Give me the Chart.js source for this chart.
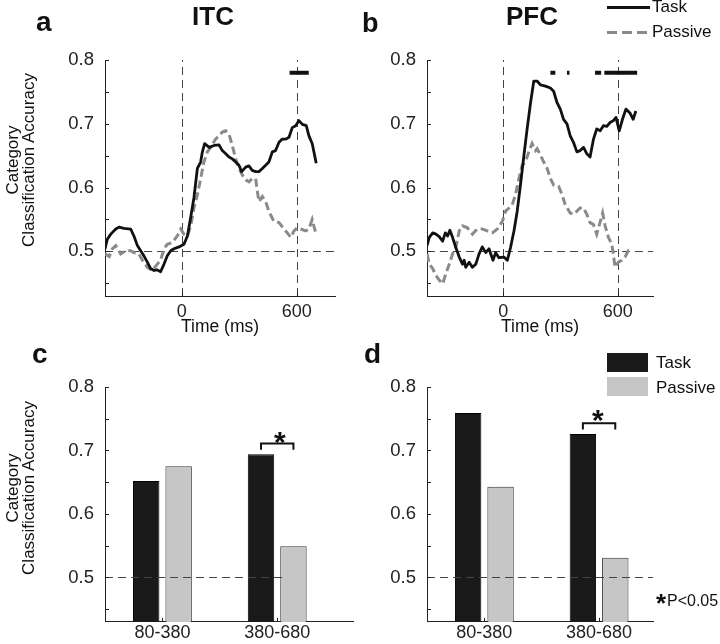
<!DOCTYPE html>
<html><head><meta charset="utf-8">
<script src="https://cdn.jsdelivr.net/npm/chart.js@4.4.1/dist/chart.umd.min.js"></script>
<style>
html,body{margin:0;padding:0;background:#fff;}
body{width:720px;height:644px;position:relative;overflow:hidden;font-family:"Liberation Sans",Arial,sans-serif;color:#111;}
canvas{position:absolute;}
.t{position:absolute;white-space:nowrap;}
.lbl{font-weight:bold;font-size:28px;line-height:28px;}
.ttl{font-weight:bold;font-size:26px;line-height:26px;transform:translateX(-50%);}
.yt{font-size:17px;line-height:16px;text-align:center;transform:translate(-50%,-50%) rotate(-90deg);}
.lg{font-size:17px;line-height:17px;}
.star{font-weight:bold;font-size:30px;line-height:30px;}
</style></head><body>
<canvas id="ca" width="360" height="340" style="left:0;top:0;width:360px;height:340px"></canvas>
<canvas id="cb" width="360" height="340" style="left:360px;top:0;width:360px;height:340px"></canvas>
<canvas id="cc" width="360" height="324" style="left:0;top:320px;width:360px;height:324px"></canvas>
<canvas id="cd" width="360" height="324" style="left:360px;top:320px;width:360px;height:324px"></canvas>

<div class="t lbl" style="left:36px;top:8px">a</div>
<div class="t lbl" style="left:362px;top:9px;font-size:27px">b</div>
<div class="t lbl" style="left:32px;top:340px">c</div>
<div class="t lbl" style="left:364px;top:340px">d</div>
<div class="t ttl" style="left:213px;top:3px">ITC</div>
<div class="t ttl" style="left:532px;top:3px">PFC</div>
<div class="t yt" style="left:21px;top:160px">Category<br>Classification Accuracy</div>
<div class="t yt" style="left:21px;top:488px">Category<br>Classification Accuracy</div>

<div class="t" style="left:607px;top:6px;width:43px;border-top:3px solid #111"></div>
<div class="t" style="left:607px;top:31px;width:10px;border-top:3px solid #8a8a8a"></div>
<div class="t" style="left:622px;top:31px;width:10px;border-top:3px solid #8a8a8a"></div>
<div class="t" style="left:637px;top:31px;width:10px;border-top:3px solid #8a8a8a"></div>
<div class="t lg" style="left:652px;top:-2px">Task</div>
<div class="t lg" style="left:652px;top:23px">Passive</div>

<div class="t" style="left:607px;top:353px;width:41px;height:19px;background:#1a1a1a"></div>
<div class="t" style="left:607px;top:377px;width:41px;height:19px;background:#c6c6c6"></div>
<div class="t lg" style="left:656px;top:354px">Task</div>
<div class="t lg" style="left:656px;top:379px">Passive</div>

<div class="t star" style="left:274px;top:427px">*</div>
<div class="t star" style="left:592px;top:405px">*</div>
<div class="t star" style="left:656px;top:590px;font-size:26px;line-height:26px">*</div>
<div class="t" style="left:667px;top:593px;font-size:16px;line-height:16px">P&lt;0.05</div>

<script>
// ---------- data ----------
const yTicks = [0.45, 0.5, 0.55, 0.6, 0.65, 0.7, 0.75, 0.8];
const timeTicks = [0, 600];
const eventTimes = [0, 600];
const chance = 0.5;
const sigLevel = 0.78;

const itcTaskT = [-400,-388,-370,-344,-327,-301,-266,-249,-231,-214,-197,-179,-162,-144,-127,-110,-92,-75,-57,-40,-14,12,30,47,64,82,99,108,120,143,169,195,212,230,247,264,282,299,313,334,351,368,386,403,421,438,455,473,490,508,525,543,560,577,595,612,630,650,664,681,690,702];
const itcTaskV = [.504,.519,.527,.535,.538,.536,.535,.524,.509,.501,.493,.483,.473,.470,.471,.468,.480,.493,.501,.504,.507,.511,.524,.553,.584,.630,.640,.656,.669,.663,.666,.667,.658,.653,.648,.645,.640,.635,.625,.632,.634,.627,.625,.625,.630,.635,.640,.656,.658,.671,.676,.676,.679,.694,.697,.705,.699,.697,.681,.669,.656,.638];

const itcPassiveT = [-400,-378,-362,-344,-318,-292,-266,-249,-223,-205,-179,-153,-127,-110,-92,-75,-49,-23,-5,12,30,47,64,82,99,116,134,151,177,195,212,230,247,264,282,299,316,334,351,368,386,395,403,421,438,455,481,508,534,551,569,586,603,621,647,664,681,699];
const itcPassiveV = [.496,.492,.504,.509,.496,.501,.501,.498,.496,.486,.475,.470,.480,.486,.504,.511,.514,.524,.535,.527,.524,.540,.568,.589,.614,.640,.656,.663,.676,.681,.687,.689,.684,.666,.645,.630,.620,.612,.609,.614,.614,.594,.578,.586,.578,.563,.547,.545,.535,.529,.522,.532,.537,.535,.532,.535,.550,.529];

const pfcTaskT = [-400,-388,-370,-353,-336,-318,-304,-292,-280,-266,-249,-231,-214,-205,-197,-179,-162,-144,-127,-110,-92,-75,-54,-40,-23,3,21,38,56,73,90,108,125,143,160,177,195,221,247,264,282,299,316,334,351,368,386,403,421,438,455,473,490,508,525,543,560,577,591,608,625,643,664,681,695];
const pfcTaskV = [.509,.522,.529,.527,.523,.516,.529,.524,.533,.522,.506,.491,.480,.486,.475,.483,.475,.480,.496,.507,.498,.504,.486,.498,.490,.491,.486,.506,.532,.563,.604,.650,.692,.733,.767,.767,.761,.759,.756,.751,.733,.723,.707,.700,.681,.671,.656,.658,.663,.653,.648,.676,.692,.689,.697,.696,.702,.705,.710,.689,.707,.723,.717,.707,.720];

const pfcPassiveT = [-400,-388,-370,-353,-336,-318,-301,-283,-266,-249,-231,-214,-188,-162,-136,-110,-83,-57,-31,-5,12,30,47,64,82,99,116,134,151,169,177,195,212,230,247,264,290,308,325,351,368,386,403,421,438,455,473,490,504,521,534,551,569,577,586,603,621,638,655,673];
const pfcPassiveV = [.496,.480,.473,.462,.455,.449,.465,.480,.496,.506,.532,.540,.537,.527,.535,.535,.532,.529,.535,.547,.563,.568,.573,.589,.614,.635,.640,.656,.669,.658,.661,.651,.640,.630,.614,.604,.602,.589,.573,.560,.558,.563,.568,.568,.558,.545,.542,.527,.542,.560,.540,.522,.511,.496,.475,.483,.486,.491,.501,.501];

const itcSig = [[563, 663]];
const pfcSig = [[247, 273], [334, 347], [481, 513], [530, 702]];

const categories = ['80-380', '380-680'];
const itcTaskBar = [0.652, 0.694];
const itcPassiveBar = [0.675, 0.549];
const pfcTaskBar = [0.759, 0.726];
const pfcPassiveBar = [0.643, 0.531];
const barSignificant = [false, true];

// ---------- helpers ----------
const FAM = 'Arial, "Liberation Sans", sans-serif';
Chart.defaults.font.family = FAM;
Chart.defaults.color = '#222';
function F(size, extra) { return Object.assign({family: FAM, size: size, style: 'normal', weight: 'normal'}, extra || {}); }

function pts(t, v) { return t.map((x, i) => ({x: x, y: v[i]})); }
function sigPts(intervals) {
  const out = [];
  intervals.forEach(([s, e]) => { out.push({x: s, y: sigLevel}, {x: e, y: sigLevel}, {x: e, y: null}); });
  return out;
}
function seg(ctx, x0, y0, x1, y1) { ctx.beginPath(); ctx.moveTo(x0, y0); ctx.lineTo(x1, y1); ctx.stroke(); }

function drawRefs(chart, o) {
  const {ctx, chartArea: a, scales: {x, y}} = chart;
  ctx.save();
  ctx.strokeStyle = '#444'; ctx.lineWidth = 1; ctx.setLineDash([8, 5]);
  const py = Math.round(y.getPixelForValue(o.hValue)) + 0.5;
  const xe = o.hTo != null ? x.getPixelForValue(o.hTo) : a.right;
  seg(ctx, a.left, py, xe, py);
  (o.vValues || []).forEach(v => {
    const px = Math.round(x.getPixelForValue(v)) + 0.5;
    seg(ctx, px, a.bottom, px, a.top);
  });
  ctx.restore();
}
function drawTicks(chart) {
  const {ctx, chartArea: a, scales: {x, y}} = chart;
  ctx.save();
  ctx.strokeStyle = '#222'; ctx.lineWidth = 1; ctx.setLineDash([]);
  y.ticks.forEach(t => { const p = Math.round(y.getPixelForValue(t.value)) + 0.5; seg(ctx, a.left, p, a.left + 4, p); });
  x.ticks.forEach(t => { const p = Math.round(x.getPixelForValue(t.value)) + 0.5; seg(ctx, p, a.bottom, p, a.bottom - 4); });
  ctx.restore();
}
function drawBrackets(chart, o) {
  const {ctx, scales: {y}} = chart;
  const m0 = chart.getDatasetMeta(0), m1 = chart.getDatasetMeta(1);
  ctx.save();
  ctx.strokeStyle = '#111'; ctx.lineWidth = 2; ctx.setLineDash([]);
  o.sig.forEach((s, i) => {
    if (!s) return;
    const x0 = m0.data[i].x, x1 = m1.data[i].x;
    const top = Math.max(o.task[i], o.passive[i]);
    const by = y.getPixelForValue(top + 0.017), ty = y.getPixelForValue(top + 0.007);
    ctx.beginPath(); ctx.moveTo(x0, ty); ctx.lineTo(x0, by); ctx.lineTo(x1, by); ctx.lineTo(x1, ty); ctx.stroke();
  });
  ctx.restore();
}
const decor = {
  id: 'decor',
  beforeDatasetsDraw(chart, args, o) { if (!o.onTop) drawRefs(chart, o); },
  afterDatasetsDraw(chart, args, o) {
    if (o.onTop) drawRefs(chart, o);
    if (o.sig) drawBrackets(chart, o);
    drawTicks(chart);
  }
};

function yScale(width) {
  return {
    type: 'linear', min: 0.43, max: 0.8,
    afterBuildTicks: s => { s.ticks = yTicks.map(v => ({value: v})); },
    afterFit: s => { s.width = width; },
    grid: {display: false, drawTicks: false},
    border: {display: true, color: '#222', width: 1},
    ticks: {padding: 11, font: F(18.5), color: '#222',
      callback: v => (Math.round(v * 100) % 10 === 0 ? v.toFixed(1) : '')}
  };
}

function lineChart(id, taskT, taskV, passT, passV, sig, g) {
  return new Chart(document.getElementById(id), {
    type: 'line',
    data: {datasets: [
      {label: 'Task', data: pts(taskT, taskV), borderColor: '#111', borderWidth: 2.8, pointRadius: 0, tension: 0, borderJoinStyle: 'round'},
      {label: 'Sig', data: sigPts(sig), borderColor: '#111', borderWidth: 4, pointRadius: 0, spanGaps: false, borderCapStyle: 'butt'},
      {label: 'Passive', data: pts(passT, passV), borderColor: '#8a8a8a', borderWidth: 3, borderDash: [8, 4], pointRadius: 0, tension: 0}
    ]},
    options: {
      responsive: false, animation: false, events: [],
      font: F(17),
      layout: {padding: {left: 0, top: g.top, right: g.right, bottom: 0}},
      plugins: {legend: {display: false}, tooltip: {enabled: false},
        decor: {hValue: chance, vValues: eventTimes, onTop: false}},
      scales: {
        x: {
          type: 'linear', min: -400, max: g.xMax,
          afterBuildTicks: s => { s.ticks = timeTicks.map(v => ({value: v})); },
          afterFit: s => { s.height = g.xh; },
          grid: {display: false, drawTicks: false},
          border: {display: true, color: '#222', width: 1},
          ticks: {padding: 7, font: F(18, {lineHeight: 1}), color: '#222', maxRotation: 0, callback: v => String(v)},
          title: {display: true, text: 'Time (ms)', color: '#111', font: F(17.5, {lineHeight: 1}), padding: {top: 0, bottom: 4.5}}
        },
        y: yScale(g.yw)
      }
    },
    plugins: [decor]
  });
}

function barChart(id, task, passive, g) {
  const common = {borderWidth: 1, barPercentage: 0.815, categoryPercentage: 0.565};
  return new Chart(document.getElementById(id), {
    type: 'bar',
    data: {datasets: [
      Object.assign({label: 'Task', data: categories.map((c, i) => ({x: i + 1, y: task[i]})), backgroundColor: '#1a1a1a', borderColor: '#000'}, common),
      Object.assign({label: 'Passive', data: categories.map((c, i) => ({x: i + 1, y: passive[i]})), backgroundColor: '#c6c6c6', borderColor: '#333'}, common)
    ]},
    options: {
      responsive: false, animation: false, events: [],
      layout: {padding: {left: 0, top: g.top, right: g.right, bottom: 0}},
      plugins: {legend: {display: false}, tooltip: {enabled: false},
        decor: {hValue: chance, hTo: g.hTo, onTop: true, sig: barSignificant, task: task, passive: passive}},
      scales: {
        x: {
          type: 'linear', min: 0.5, max: g.xMax, offset: false,
          afterBuildTicks: s => { s.ticks = categories.map((c, i) => ({value: i + 1})); },
          afterFit: s => { s.height = g.xh; },
          grid: {display: false, drawTicks: false, offset: false},
          border: {display: true, color: '#222', width: 1},
          ticks: {padding: 2, font: F(18, {lineHeight: 1}), color: '#222', maxRotation: 0, callback: v => categories[Math.round(v) - 1]}
        },
        y: yScale(g.yw)
      }
    },
    plugins: [decor]
  });
}

lineChart('ca', itcTaskT, itcTaskV, itcPassiveT, itcPassiveV, itcSig, {top: 60, right: 25, yw: 105, xh: 44, xMax: 800});
lineChart('cb', pfcTaskT, pfcTaskV, pfcPassiveT, pfcPassiveV, pfcSig, {top: 60, right: 67, yw: 67, xh: 44, xMax: 785});
barChart('cc', itcTaskBar, itcPassiveBar, {top: 67, right: 7, yw: 105, xh: 19, xMax: 2.66, hTo: 2.05});
barChart('cd', pfcTaskBar, pfcPassiveBar, {top: 67, right: 67, yw: 67, xh: 19, xMax: 2.47, hTo: null});
</script>
</body></html>
